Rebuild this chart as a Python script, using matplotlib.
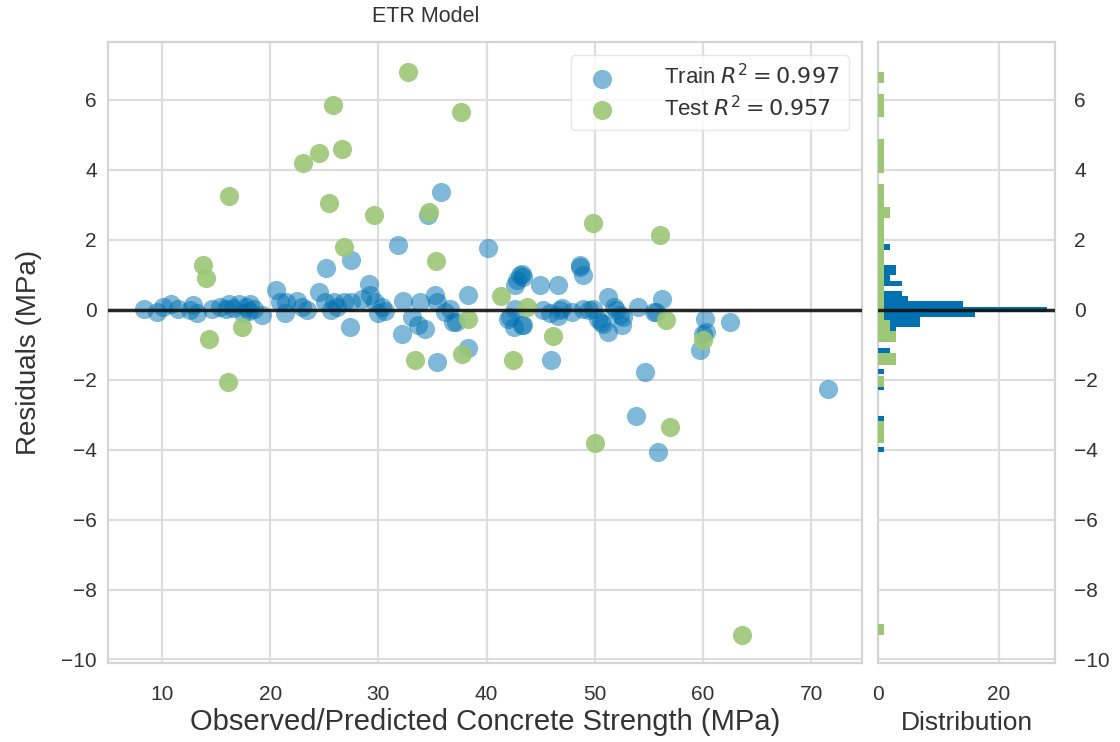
import numpy as np
import matplotlib
matplotlib.use("Agg")
import matplotlib.pyplot as plt

plt.rcParams['font.family'] = ['Liberation Sans', 'DejaVu Sans']

# residuals of the training set: predicted strength (MPa) and residual (MPa)
train_pred = [8.3, 9.5, 10.1, 10.8, 11.5, 12.9, 13.2, 14.6, 15.4, 16.15, 16.6, 17.1, 17.5, 18.15,
              18.5, 19.2, 20.5, 20.9, 21.5, 21.4, 22.5, 22.9, 15.9, 17.8, 12.6, 18.0,
              24.5, 25.1, 25.85, 26.8, 27.5, 28.5, 29.1, 29.25, 29.7, 30.0, 30.3, 27.5, 25.2, 31.8,
              34.6, 35.8, 27.4, 32.25, 32.2, 33.1, 33.85, 33.7, 34.3, 35.2, 35.4, 36.2, 36.9, 38.3,
              38.3, 35.4, 40.1, 37.2, 36.6, 26.2, 23.4, 30.6, 25.6,
              43.1, 43.4, 42.6, 44.9, 46.6, 48.6, 48.9, 51.2, 56.2, 54.0, 42.6, 42.0, 42.5, 43.4,
              45.9, 46.8, 46.6, 47.85, 48.9, 49.85, 50.3, 50.6, 51.2, 52.0, 52.3, 52.6, 52.5, 55.5,
              46.0, 54.6, 50.8, 55.7, 60.2, 60.3, 60.0, 59.7, 62.5, 53.85, 55.85, 71.55, 42.15,
              43.25, 42.8, 43.25, 48.6, 47.0, 49.5, 51.8, 45.2]
train_resid = [0.03, -0.08, 0.08, 0.15, 0.02, 0.12, -0.09, 0.03, 0.07, 0.17, 0.05, 0.17, -0.1, 0.17,
               0.03, -0.16, 0.55, 0.22, 0.22, -0.1, 0.26, 0.07, 0.02, 0.08, 0.0, -0.03,
               0.49, 0.22, 0.22, 0.22, 0.22, 0.31, 0.74, 0.41, 0.22, -0.1, 0.07, 1.41, 1.19, 1.85,
               2.70, 3.35, -0.5, 0.24, -0.69, -0.21, 0.22, -0.45, -0.54, 0.41, 0.22, -0.08, -0.35, 0.41,
               -1.11, -1.5, 1.75, -0.35, 0.03, 0.08, 0.0, -0.05, 0.0,
               0.98, 0.93, 0.69, 0.69, 0.69, 1.27, 0.98, 0.36, 0.31, 0.07, 0.03, -0.26, -0.5, -0.45,
               -0.1, 0.0, -0.19, -0.07, 0.03, 0.03, -0.26, -0.35, -0.64, -0.02, -0.16, -0.2, -0.45, -0.08,
               -1.45, -1.78, -0.4, -0.07, -0.26, -0.64, -0.69, -1.16, -0.35, -3.05, -4.07, -2.26, -0.21,
               -0.45, 0.84, 1.03, 1.22, 0.05, 0.0, 0.08, 0.0]

# residuals of the test set
test_pred = [32.75, 25.8, 37.6, 23.05, 24.5, 26.6, 16.2, 25.4, 29.6, 34.7, 26.8, 35.3, 13.8, 14.1,
             17.4, 14.3, 16.1, 33.4, 37.7, 38.3, 41.3, 43.7, 46.1, 42.4, 49.85, 56.0, 56.6, 60.0,
             50.0, 56.95, 63.6]
test_resid = [6.8, 5.86, 5.64, 4.18, 4.49, 4.6, 3.26, 3.04, 2.70, 2.78, 1.8, 1.38, 1.27, 0.89,
              -0.5, -0.85, -2.08, -1.45, -1.28, -0.28, 0.4, 0.07, -0.74, -1.45, 2.49, 2.13, -0.3, -0.88,
              -3.82, -3.36, -9.3]

train_r2 = 0.997
test_r2 = 0.957

train_color = '#0072B2'
test_color = '#9CC777'
grid_color = '#DDDDDD'
text_color = '#333333'

fig = plt.figure(figsize=(11.2, 7.42), dpi=100)
ax = fig.add_axes([0.0964, 0.1065, 0.6732, 0.8369])
hax = fig.add_axes([0.7839, 0.1065, 0.158, 0.8369], sharey=ax)

ax.scatter(train_pred, train_resid, s=190, c=train_color, alpha=0.5, linewidths=0,
           label='Train $R^2 = {:0.3f}$'.format(train_r2), zorder=3)
ax.scatter(test_pred, test_resid, s=190, c=test_color, alpha=0.9, linewidths=0,
           label='Test $R^2 = {:0.3f}$'.format(test_r2), zorder=3)
ax.axhline(0, color='#111111', lw=2.5, alpha=0.9, zorder=4)

hax.hist(train_resid, bins=50, orientation='horizontal', color=train_color, zorder=3)
hax.hist(test_resid, bins=50, orientation='horizontal', color=test_color, zorder=3)
hax.axhline(0, color='#111111', lw=2.5, alpha=0.9, zorder=4)

ax.set_xlim(5.0, 74.7)
ax.set_ylim(-10.1, 7.65)
ax.set_xticks(range(10, 80, 10))
ax.set_yticks(range(-10, 8, 2))
hax.set_xlim(0, 29.3)
hax.set_xticks([0, 20])

for a in (ax, hax):
    a.set_facecolor('white')
    a.grid(True, color=grid_color, lw=1.6, zorder=0)
    a.set_axisbelow(True)
    for sp in a.spines.values():
        sp.set_color('#D5D5D5')
        sp.set_linewidth(1.6)
    a.tick_params(length=0, labelsize=15, colors=text_color, pad=8)
    a.tick_params(axis='x', pad=16)

hax.tick_params(axis='y', labelleft=False, labelright=True, pad=14)

fig.text(426 / 1120, 1 - 17 / 742, 'ETR Model', fontsize=15.5, color=text_color,
         ha='center', va='center')
ax.set_xlabel('Observed/Predicted Concrete Strength (MPa)', fontsize=21, color=text_color,
              labelpad=3)
ax.set_ylabel('Residuals (MPa)', fontsize=20, color=text_color, labelpad=14)
hax.set_xlabel('Distribution', fontsize=19, color=text_color, labelpad=5)

leg = ax.legend(loc='upper right', fontsize=16, frameon=True, facecolor='white',
                edgecolor='#E0E0E0', framealpha=0.8, borderpad=0.4, handletextpad=1.8,
                labelspacing=0.3, borderaxespad=0.6)
for t in leg.get_texts():
    t.set_color(text_color)

fig.savefig('out.png', dpi=100, facecolor='white')
